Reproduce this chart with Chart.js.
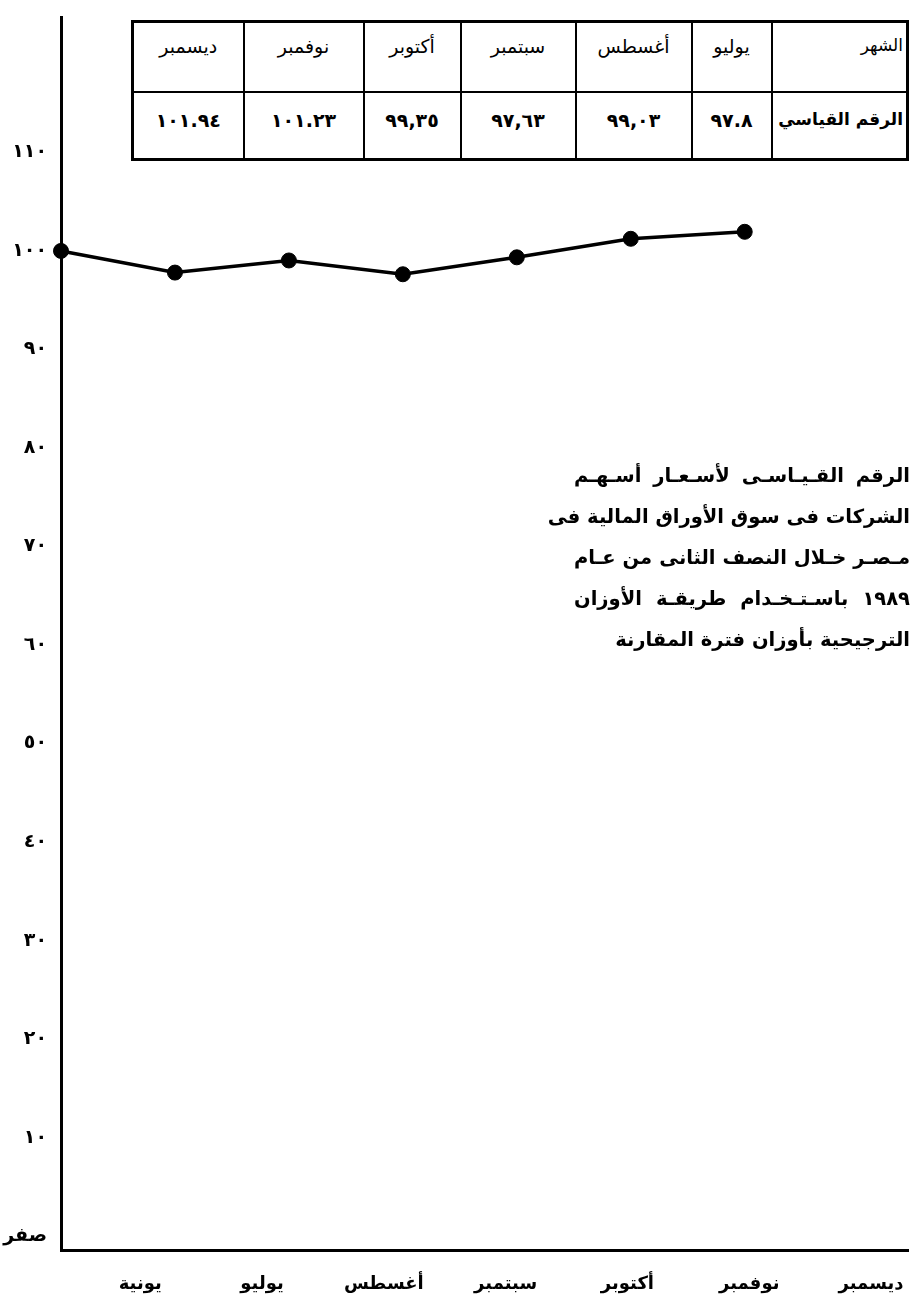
<!DOCTYPE html>
<html lang="ar">
<head>
<meta charset="utf-8">
<title>الرقم القياسي لأسعار أسهم الشركات - النصف الثاني 1989</title>
<script src="https://cdn.jsdelivr.net/npm/chart.js@4.4.0/dist/chart.umd.min.js"></script>
<style>
  html, body { margin:0; padding:0; background:#fff; }
  #wrap { position:relative; width:920px; height:1298px; font-family:'DejaVu Sans', sans-serif; color:#000; }
  #chart-box { position:absolute; left:0; top:0; width:920px; height:1298px; }
  #tbl { position:absolute; left:131px; top:20px; width:775px; height:138px; border-collapse:collapse; direction:rtl; border:3px solid #000; background:#fff; table-layout:fixed; }
  #tbl tr.hdr { height:70px; }
  #tbl tr.vals { height:68px; }
  #tbl td { border:2px solid #000; vertical-align:top; padding:12px 6px 0 6px; font-size:19px; text-align:center; white-space:nowrap; }
  #tbl tr.vals td { font-weight:bold; padding-top:16px; }
  #tbl td.head { text-align:right; padding-right:3px; font-size:17px; }
  #title { position:absolute; right:10px; top:455px; width:336px; direction:rtl; font-weight:bold; font-size:19.5px; line-height:41px; }
  #title div { white-space:nowrap; text-align:justify; text-align-last:justify; }
  #title div.last { text-align-last:right; }
</style>
</head>
<body>
<div id="wrap">
  <div id="chart-box"><canvas id="chart-idx"></canvas></div>
  <table id="tbl"></table>
  <div id="title"></div>
</div>
<script>
// ── Datos ────────────────────────────────────────────────────
var months      = ['يونية', 'يوليو', 'أغسطس', 'سبتمبر', 'أكتوبر', 'نوفمبر', 'ديسمبر'];
var indexValues = [100, 97.8, 99.03, 97.63, 99.35, 101.23, 101.94];
var tableHeads  = ['الشهر', 'الرقم القياسي'];
var tableTexts  = ['٩٧.٨', '٩٩,٠٣', '٩٧,٦٣', '٩٩,٣٥', '١٠١.٢٣', '١٠١.٩٤'];
var yTicks      = [0, 10, 20, 30, 40, 50, 60, 70, 80, 90, 100, 110];
var zeroLabel   = 'صفر';
var titleLines  = [
    'الرقم القـيـاسـى لأسـعـار أسـهـم',
    'الشركات فى سوق الأوراق المالية فى',
    'مـصـر خـلال النصف الثانى من عـام',
    '١٩٨٩ باسـتـخـدام طريقـة الأوزان',
    'الترجيحية بأوزان فترة المقارنة'
];

// cifras arábigo-índicas
function arDigits(n) { return String(n).replace(/\d/g, function(d) { return '٠١٢٣٤٥٦٧٨٩'[d]; }); }

// ── Tabla superior ───────────────────────────────────────────
var colW = [136, 80, 116, 115, 97, 120, 111];
var tbl = document.getElementById('tbl');
var cg = '<colgroup>' + colW.map(function(w) { return '<col style="width:' + w + 'px">'; }).join('') + '</colgroup>';
var r1 = '<tr class="hdr"><td class="head">' + tableHeads[0] + '</td>' +
    months.slice(1).map(function(m) { return '<td>' + m + '</td>'; }).join('') + '</tr>';
var r2 = '<tr class="vals"><td class="head">' + tableHeads[1] + '</td>' +
    tableTexts.map(function(t) { return '<td>' + t + '</td>'; }).join('') + '</tr>';
tbl.innerHTML = cg + r1 + r2;

// ── Título ───────────────────────────────────────────────────
document.getElementById('title').innerHTML = titleLines.map(function(l, i) {
    return '<div' + (i === titleLines.length - 1 ? ' class="last"' : '') + '>' + l + '</div>';
}).join('');

// ── Gráfico ──────────────────────────────────────────────────
// eje "x" lleva los puntos; eje "xm" (debajo) lleva los nombres de los meses,
// con su propio espaciado como en el original dibujado a mano
new Chart(document.getElementById('chart-idx'), {
    type: 'line',
    data: {
        datasets: [{
            data: months.map(function(m, i) { return { x: i, y: indexValues[i] }; }),
            xAxisID: 'x',
            borderColor: '#000',
            backgroundColor: '#000',
            borderWidth: 3.5,
            pointRadius: 7.5,
            pointBorderWidth: 1,
            pointBackgroundColor: '#000',
            tension: 0,
            clip: false
        }]
    },
    options: {
        responsive: true,
        maintainAspectRatio: false,
        animation: false,
        layout: { padding: { top: 10, right: 2, left: 0, bottom: 0 } },
        plugins: { legend: { display: false }, tooltip: { enabled: false } },
        scales: {
            x: {
                type: 'linear',
                position: 'bottom',
                weight: 0,
                min: 0,
                max: 7.44,
                grid: { display: false },
                border: { display: true, color: '#000', width: 3 },
                ticks: { display: false },
                afterFit: function(scale) { scale.height = 0; }
            },
            xm: {
                type: 'linear',
                position: 'bottom',
                weight: 1,
                min: -0.65,
                max: 6.31,
                grid: { display: false },
                border: { display: false },
                afterBuildTicks: function(scale) {
                    scale.ticks = months.map(function(m, i) { return { value: i }; });
                },
                afterFit: function(scale) { scale.height = 1298 - 1250; },
                ticks: {
                    autoSkip: false,
                    maxRotation: 0,
                    padding: 16,
                    color: '#000',
                    font: { family: 'DejaVu Sans', size: 18, weight: 'bold' },
                    callback: function(v, i) { return months[i]; }
                }
            },
            y: {
                min: -1.4,
                max: 123.7,
                grid: { display: false },
                border: { display: true, color: '#000', width: 3 },
                afterBuildTicks: function(scale) {
                    scale.ticks = yTicks.map(function(v) { return { value: v }; });
                },
                afterFit: function(scale) { scale.width = 61; },
                ticks: {
                    padding: 6,
                    color: '#000',
                    font: { family: 'DejaVu Sans', size: 19, weight: 'bold' },
                    callback: function(v) { return v === 0 ? zeroLabel : arDigits(v); }
                }
            }
        }
    }
});
</script>
</body>
</html>
